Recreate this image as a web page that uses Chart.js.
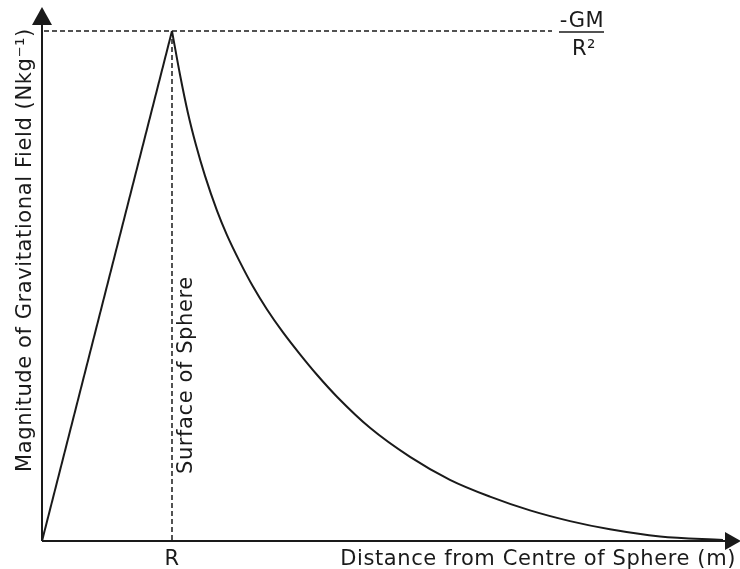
<!DOCTYPE html>
<html>
<head>
<meta charset="utf-8">
<script src="https://cdn.jsdelivr.net/npm/chart.js"></script>
<style>
    body { margin: 0; background: #fff; }
    #wrap { width: 740px; height: 569px; }
</style>
</head>
<body>
<div id="wrap"><canvas id="myChart"></canvas></div>
<script>
// distance in multiples of R, field as a fraction of GM/R^2
const insideX = [0, 1];
const insideY = [0, 1];

const outsideX = [1, 1.062, 1.123, 1.185, 1.254, 1.346, 1.423, 1.523, 1.623, 1.731, 1.854, 1.985, 2.115, 2.269, 2.523, 2.831, 3.138, 3.446, 3.754, 4.062, 4.369, 4.754, 5.238];
const outsideY = [1, 0.914, 0.839, 0.776, 0.716, 0.648, 0.600, 0.547, 0.499, 0.454, 0.409, 0.366, 0.326, 0.283, 0.222, 0.165, 0.120, 0.087, 0.060, 0.039, 0.023, 0.009, 0.002];

const xTickValues = [1];
const xTickLabels = ['R'];

const xTitle = 'Distance from Centre of Sphere (m)';
const yTitle = 'Magnitude of Gravitational Field (Nkg⁻¹)';
const surfaceLabel = 'Surface of Sphere';
const peakTop = '-GM';
const peakBottom = 'R²';

const ink = '#1a1a1a';
const font = 'DejaVu Sans';

function toPoints(xs, ys) {
    return xs.map((x, i) => ({ x: x, y: ys[i] }));
}

const diagramPlugin = {
    id: 'diagram',
    afterDatasetsDraw(chart) {
        const ctx = chart.ctx;
        const xs = chart.scales.x;
        const ys = chart.scales.y;
        const area = chart.chartArea;
        const x0 = xs.getPixelForValue(0);
        const y0 = ys.getPixelForValue(0);
        const xR = xs.getPixelForValue(1);
        const yPeak = ys.getPixelForValue(1);

        ctx.save();
        ctx.strokeStyle = ink;
        ctx.fillStyle = ink;

        // dashed guide lines
        ctx.lineWidth = 1.5;
        ctx.setLineDash([5, 3]);
        ctx.beginPath();
        ctx.moveTo(x0 + 2, yPeak);
        ctx.lineTo(552, yPeak);
        ctx.moveTo(xR, yPeak);
        ctx.lineTo(xR, y0);
        ctx.stroke();
        ctx.setLineDash([]);

        // axes
        ctx.lineWidth = 2;
        ctx.beginPath();
        ctx.moveTo(x0, y0);
        ctx.lineTo(x0, area.top);
        ctx.moveTo(x0, y0);
        ctx.lineTo(area.right, y0);
        ctx.stroke();

        // arrow heads
        ctx.beginPath();
        ctx.moveTo(x0, area.top - 18);
        ctx.lineTo(x0 - 10, area.top);
        ctx.lineTo(x0 + 10, area.top);
        ctx.closePath();
        ctx.fill();
        ctx.beginPath();
        ctx.moveTo(area.right + 13, y0);
        ctx.lineTo(area.right - 3, y0 - 9);
        ctx.lineTo(area.right - 3, y0 + 9);
        ctx.closePath();
        ctx.fill();

        // tick labels and titles
        ctx.font = '21px "' + font + '"';
        ctx.letterSpacing = '0.6px';
        ctx.textBaseline = 'alphabetic';
        ctx.textAlign = 'center';
        xTickValues.forEach((v, i) => {
            ctx.fillText(xTickLabels[i], xs.getPixelForValue(v), 565);
        });
        ctx.textAlign = 'right';
        ctx.fillText(xTitle, 736, 565);

        ctx.save();
        ctx.translate(31, 250);
        ctx.rotate(-Math.PI / 2);
        ctx.textAlign = 'center';
        ctx.fillText(yTitle, 0, 0);
        ctx.restore();

        ctx.save();
        ctx.translate(192, 474);
        ctx.rotate(-Math.PI / 2);
        ctx.textAlign = 'left';
        ctx.fillText(surfaceLabel, 0, 0);
        ctx.restore();

        // -GM / R^2 label
        ctx.textAlign = 'center';
        ctx.fillText(peakTop, 582, 27);
        ctx.fillText(peakBottom, 584, 55);
        ctx.lineWidth = 1.5;
        ctx.beginPath();
        ctx.moveTo(559, yPeak + 1);
        ctx.lineTo(604, yPeak + 1);
        ctx.stroke();

        ctx.restore();
    }
};

const ctx = document.getElementById('myChart').getContext('2d');

window.myChart = new Chart(ctx, {
    type: 'scatter',
    data: {
        datasets: [
            {
                label: 'Inside',
                data: toPoints(insideX, insideY),
                showLine: true,
                borderColor: ink,
                borderWidth: 2,
                pointRadius: 0,
                tension: 0,
            },
            {
                label: 'Outside',
                data: toPoints(outsideX, outsideY),
                showLine: true,
                borderColor: ink,
                borderWidth: 2,
                pointRadius: 0,
                cubicInterpolationMode: 'monotone',
            },
        ],
    },
    options: {
        responsive: true,
        maintainAspectRatio: false,
        animation: false,
        layout: { padding: { left: 42, right: 12, top: 25, bottom: 28 } },
        plugins: {
            legend: { display: false },
            tooltip: { enabled: false },
        },
        scales: {
            x: { type: 'linear', min: 0, max: 5.277, display: false },
            y: { type: 'linear', min: 0, max: 1.012, display: false },
        },
    },
    plugins: [diagramPlugin],
});
</script>
</body>
</html>
